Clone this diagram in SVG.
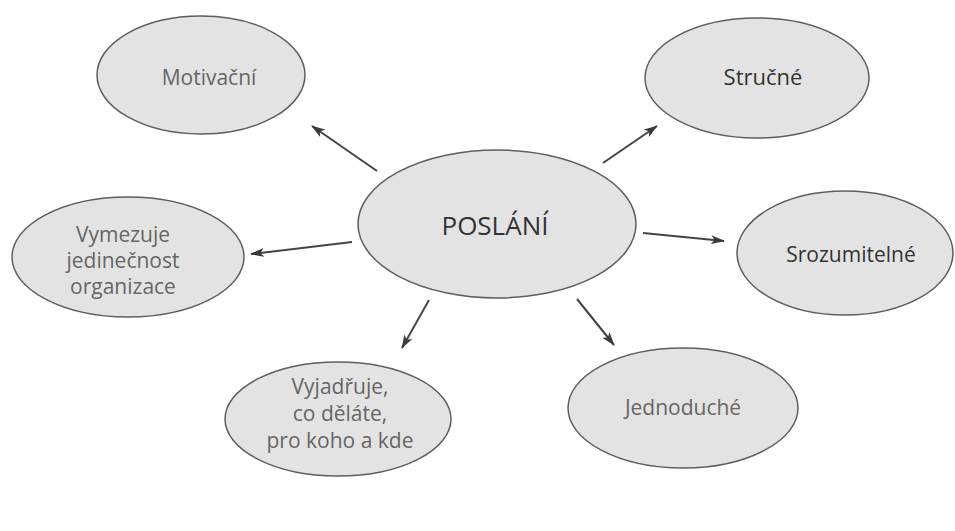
<svg xmlns="http://www.w3.org/2000/svg" width="955" height="531" viewBox="0 0 955 531">
<style>
.n{fill:#e3e3e3;stroke:#5e5e5e;stroke-width:1.5}
.t{font-family:"Open Sans","Noto Sans",sans-serif;font-size:21px;text-anchor:middle;fill:#666}
.d{fill:#333}
.c{stroke:#444;stroke-width:2;fill:none;marker-end:url(#ah)}
</style>
<defs>
<marker id="ah" viewBox="0 0 14 10" refX="13" refY="5" markerWidth="14" markerHeight="10" orient="auto" markerUnits="userSpaceOnUse">
<path d="M0,0.5 L14,5 L0,9.5 L3.5,5 z" fill="#3a3a3a"/>
</marker>
</defs>
<rect width="955" height="531" fill="#fff"/>
<g id="connectors">
<line class="c" x1="377" y1="171" x2="312" y2="126"/>
<line class="c" x1="603" y1="163" x2="657" y2="126"/>
<line class="c" x1="352" y1="242" x2="251" y2="254"/>
<line class="c" x1="643" y1="233" x2="724" y2="241"/>
<line class="c" x1="429" y1="300" x2="402" y2="348"/>
<line class="c" x1="577" y1="299" x2="614" y2="345"/>
</g>
<g id="poslani">
<ellipse class="n" cx="497" cy="224" rx="139" ry="74"/>
<text class="t d" x="495" y="235" style="font-size:26px">POSLÁNÍ</text>
</g>
<g id="motivacni">
<ellipse class="n" cx="201" cy="75" rx="104" ry="59"/>
<text class="t" x="209" y="85">Motivační</text>
</g>
<g id="strucne">
<ellipse class="n" cx="757" cy="78" rx="112" ry="60"/>
<text class="t d" x="763" y="85" style="font-size:22px">Stručné</text>
</g>
<g id="vymezuje">
<ellipse class="n" cx="128" cy="257" rx="116" ry="60"/>
<text class="t" x="123" y="242">Vymezuje</text>
<text class="t" x="123" y="268">jedinečnost</text>
<text class="t" x="123" y="294">organizace</text>
</g>
<g id="srozumitelne">
<ellipse class="n" cx="845" cy="253" rx="108" ry="62"/>
<text class="t d" x="851" y="262">Srozumitelné</text>
</g>
<g id="vyjadruje">
<ellipse class="n" cx="338" cy="419" rx="113" ry="57"/>
<text class="t" x="340" y="394">Vyjadřuje,</text>
<text class="t" x="340" y="421">co děláte,</text>
<text class="t" x="340" y="448">pro koho a kde</text>
</g>
<g id="jednoduche">
<ellipse class="n" cx="683" cy="408" rx="115" ry="60"/>
<text class="t" x="683" y="415">Jednoduché</text>
</g>
</svg>
